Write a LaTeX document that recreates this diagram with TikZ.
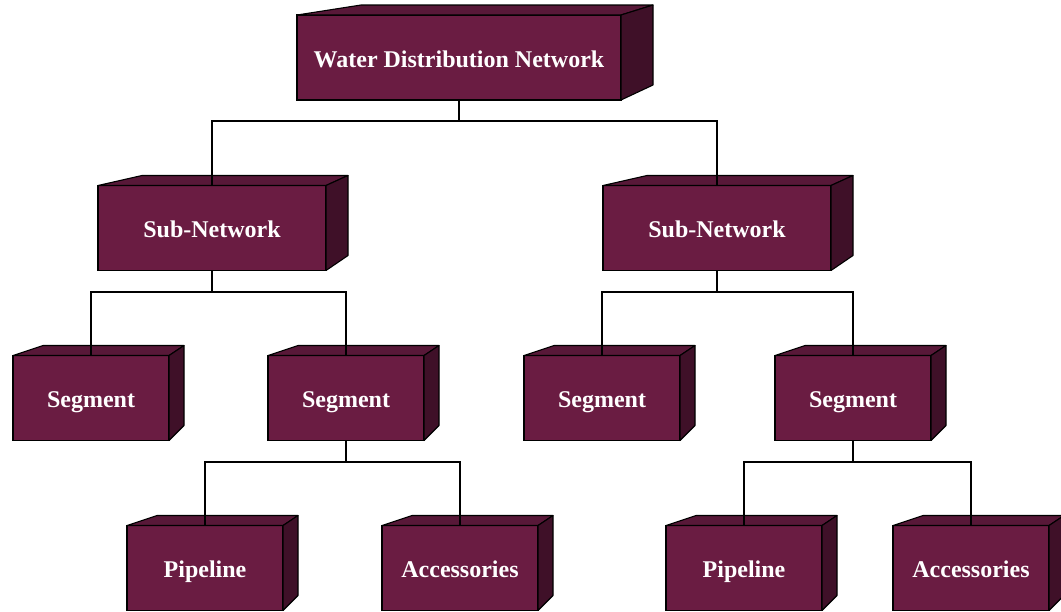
\documentclass[tikz,border=0pt]{standalone}
\usepackage{fontspec}
\setmainfont{Liberation Serif}
\usetikzlibrary{calc}

\definecolor{frontface}{HTML}{6A1C42}
\definecolor{topface}{HTML}{581838}
\definecolor{sideface}{HTML}{3F1028}

\tikzset{
  block/.style={rectangle, fill=frontface, draw=black, line width=1.1pt,
    outer sep=0pt, minimum height=85pt, text=white,
    text height=24pt, text depth=5pt,
    font=\fontsize{24}{28}\selectfont\bfseries, inner sep=0pt},
  toppart/.style={fill=topface, draw=black, line width=1.1pt, line join=round},
  sidepart/.style={fill=sideface, draw=black, line width=1.1pt, line join=round},
  link/.style={draw=black, line width=1.6pt}
}

% top and right faces of a block, #2 = horizontal depth
\newcommand\solidfaces[2]{%
  \path[toppart] (#1.north west) -- ++(2*#2,10) -- ($(#1.north east)+(#2,10)$)
    -- (#1.north east) -- cycle;
  \path[sidepart] (#1.north east) -- ++(#2,10) -- ($(#1.south east)+(#2,15)$)
    -- (#1.south east) -- cycle;
}

\begin{document}
\begin{tikzpicture}[x=1pt,y=1pt]
\useasboundingbox (0,0) rectangle (1061,-611);

% level 0
\node[block, minimum width=324pt] (top) at (459,-57.5) {Water Distribution Network};
\solidfaces{top}{32}

% level 1
\node[block, minimum width=228pt] (subL) at (212,-228) {Sub-Network};
\solidfaces{subL}{22}
\node[block, minimum width=228pt] (subR) at (717,-228) {Sub-Network};
\solidfaces{subR}{22}

% level 2
\node[block, minimum width=156pt] (segA) at (91,-398) {Segment};
\solidfaces{segA}{15}
\node[block, minimum width=156pt] (segB) at (346,-398) {Segment};
\solidfaces{segB}{15}
\node[block, minimum width=156pt] (segC) at (602,-398) {Segment};
\solidfaces{segC}{15}
\node[block, minimum width=156pt] (segD) at (853,-398) {Segment};
\solidfaces{segD}{15}

% level 3
\node[block, minimum width=156pt] (pipeL) at (205,-568) {Pipeline};
\solidfaces{pipeL}{15}
\node[block, minimum width=156pt] (accL) at (460,-568) {Accessories};
\solidfaces{accL}{15}
\node[block, minimum width=156pt] (pipeR) at (744,-568) {Pipeline};
\solidfaces{pipeR}{15}
\node[block, minimum width=156pt] (accR) at (971,-568) {Accessories};
\solidfaces{accR}{15}

% connectors via horizontal buses
\coordinate (bus0) at (459,-121);
\draw[link] (top.south) -- (bus0) -| (subL.north);
\draw[link] (bus0) -| (subR.north);

\coordinate (bus1L) at (212,-292);
\draw[link] (subL.south) -- (bus1L) -| (segA.north);
\draw[link] (bus1L) -| (segB.north);

\coordinate (bus1R) at (717,-292);
\draw[link] (subR.south) -- (bus1R) -| (segC.north);
\draw[link] (bus1R) -| (segD.north);

\coordinate (bus2L) at (346,-462);
\draw[link] (segB.south) -- (bus2L) -| (pipeL.north);
\draw[link] (bus2L) -| (accL.north);

\coordinate (bus2R) at (853,-462);
\draw[link] (segD.south) -- (bus2R) -| (pipeR.north);
\draw[link] (bus2R) -| (accR.north);
\end{tikzpicture}
\end{document}
